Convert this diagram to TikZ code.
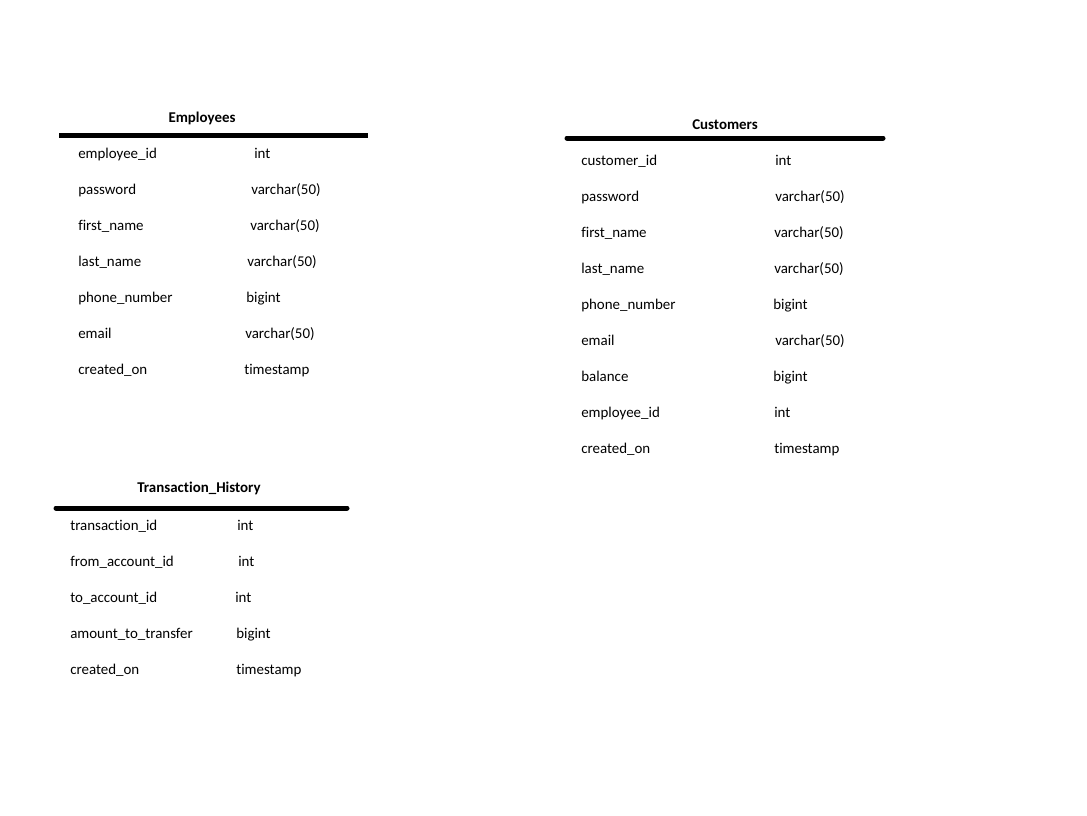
\documentclass[tikz,border=0pt]{standalone}
\usepackage{fontspec}
\setmainfont[Ligatures={NoCommon}]{Carlito}
\begin{document}
\begin{tikzpicture}[x=0.75pt,y=-0.75pt,
  cell/.style={anchor=mid west,inner sep=0pt,yshift=-1.5pt,font=\fontsize{11.2}{13}\selectfont},
  ttl/.style={anchor=mid,inner sep=0pt,yshift=-1.5pt,font=\fontsize{11.2}{13}\selectfont\bfseries},
  rule/.style={line width=3.75pt}]
\useasboundingbox (0,0) rectangle (1087,815);
\fill[white] (0,0) rectangle (1087,815);
% Employees
\node[ttl] (et) at (202,117) {Employees};
\coordinate (el1) at (59,135); \coordinate (el2) at (368,135);
\draw[rule,line cap=butt] (el1) -- (el2);
\foreach \n/\y/\tx/\t in {employee\_id/153/254/int, password/189/251/varchar(50), first\_name/225/250/varchar(50), last\_name/261/247/varchar(50), phone\_number/297/246/bigint, email/333/245/varchar(50), created\_on/369/244/timestamp}{
  \node[cell] (e\y) at (78,\y) {\n};
  \node[cell] (et\y) at (\tx,\y) {\t};
}
% Customers
\node[ttl] (ct) at (725,124) {Customers};
\coordinate (cl1) at (567,138); \coordinate (cl2) at (883,138);
\draw[rule,line cap=round] (cl1) -- (cl2);
\foreach \n/\y/\tx/\t in {customer\_id/160/775/int, password/196/775/varchar(50), first\_name/232/774/varchar(50), last\_name/268/774/varchar(50), phone\_number/304/773/bigint, email/340/775/varchar(50), balance/376/773/bigint, employee\_id/412/774/int, created\_on/448/774/timestamp}{
  \node[cell] (c\y) at (581,\y) {\n};
  \node[cell] (ct\y) at (\tx,\y) {\t};
}
% Transaction_History
\node[ttl] (tt) at (199,487) {Transaction\_History};
\coordinate (tl1) at (56,508); \coordinate (tl2) at (347,508);
\draw[rule,line cap=round] (tl1) -- (tl2);
\foreach \n/\y/\tx/\t in {transaction\_id/525/237/int, from\_account\_id/561/238/int, to\_account\_id/597/235/int, amount\_to\_transfer/633/236/bigint, created\_on/669/236/timestamp}{
  \node[cell] (t\y) at (70,\y) {\n};
  \node[cell] (tt\y) at (\tx,\y) {\t};
}
\end{tikzpicture}
\end{document}
